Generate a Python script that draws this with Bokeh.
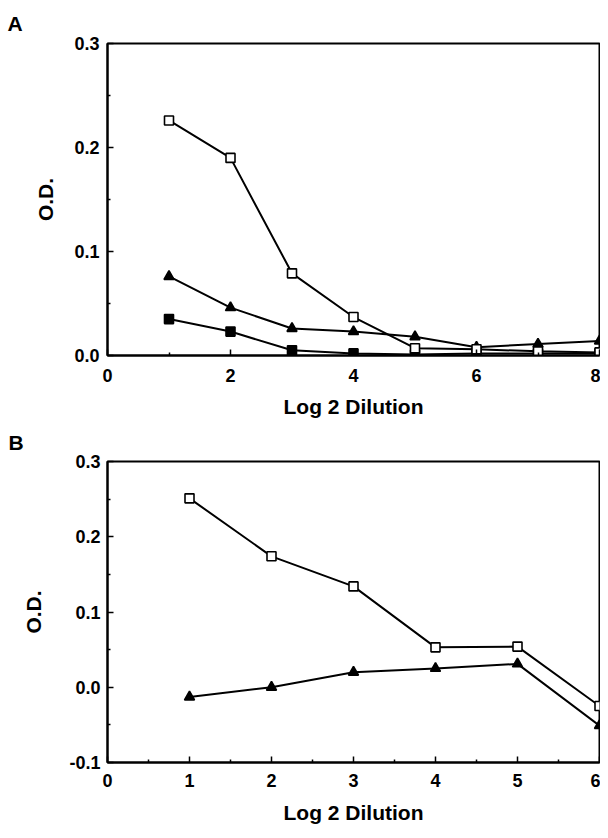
from bokeh.plotting import figure
from bokeh.layouts import column
from bokeh.models import Range1d, FixedTicker, PrintfTickFormatter, Title
from bokeh.embed import file_html
from bokeh.resources import INLINE

# ---- data ----
x_a = [1, 2, 3, 4, 5, 6, 7, 8]
a_open = [0.226, 0.190, 0.079, 0.037, 0.007, 0.006, 0.004, 0.003]
a_tri = [0.076, 0.046, 0.026, 0.023, 0.018, 0.008, 0.011, 0.014]
a_filled = [0.035, 0.023, 0.005, 0.002, 0.001, 0.002, 0.002, 0.002]

x_b = [1, 2, 3, 4, 5, 6]
b_open = [0.251, 0.174, 0.134, 0.053, 0.054, -0.025]
b_tri = [-0.013, 0.000, 0.020, 0.025, 0.031, -0.051]

a_xticks = [0, 2, 4, 6, 8]
a_xminor = [1, 3, 5, 7]
a_yticks = [0.0, 0.1, 0.2, 0.3]
a_yminor = [0.05, 0.15, 0.25]
b_xticks = [0, 1, 2, 3, 4, 5, 6]
b_xminor = [0.5, 1.5, 2.5, 3.5, 4.5, 5.5]
b_yticks = [-0.1, 0.0, 0.1, 0.2, 0.3]
b_yminor = [-0.05, 0.05, 0.15, 0.25]

FONT = "Liberation Sans"


def style(p, letter, t_offset, t_standoff, xticks, xminor, yticks, yminor,
          xt_standoff, yt_standoff, xl_standoff, yl_standoff):
    p.grid.visible = False
    p.outline_line_color = "black"
    p.outline_line_width = 2
    p.background_fill_color = "white"
    p.border_fill_color = "white"
    p.xaxis.ticker = FixedTicker(ticks=xticks, minor_ticks=xminor)
    p.yaxis.ticker = FixedTicker(ticks=yticks, minor_ticks=yminor)
    p.yaxis.formatter = PrintfTickFormatter(format="%.1f")
    for ax in (p.xaxis, p.yaxis):
        ax.axis_line_width = 2
        ax.axis_line_color = "black"
        ax.major_tick_in = 6
        ax.major_tick_out = 0
        ax.minor_tick_in = 3
        ax.minor_tick_out = 0
        ax.major_tick_line_width = 1.5
        ax.minor_tick_line_width = 1.5
        ax.major_label_text_font = FONT
        ax.major_label_text_font_style = "bold"
        ax.major_label_text_font_size = "18px"
        ax.major_label_text_color = "black"
        ax.axis_label_text_font = FONT
        ax.axis_label_text_font_style = "bold"
        ax.axis_label_text_font_size = "21px"
        ax.axis_label_text_color = "black"
    p.xaxis.major_label_standoff = xt_standoff
    p.yaxis.major_label_standoff = yt_standoff
    p.xaxis.axis_label = "Log 2 Dilution"
    p.yaxis.axis_label = "O.D."
    p.xaxis.axis_label_standoff = xl_standoff
    p.yaxis.axis_label_standoff = yl_standoff
    t = Title(text=letter, align="left", offset=t_offset, standoff=t_standoff,
              text_font=FONT, text_font_style="bold", text_font_size="21px",
              text_color="black")
    p.add_layout(t, "above")


def series(p, x, y, marker, fill, size):
    p.line(x, y, line_color="black", line_width=2)
    p.scatter(x, y, marker=marker, size=size, fill_color=fill,
              line_color="black", line_width=1.6)


pa = figure(width=600, height=420, output_backend="svg", toolbar_location=None,
            x_range=Range1d(0, 8), y_range=Range1d(0, 0.3),
            min_border_left=107, min_border_right=1, min_border_top=43,
            min_border_bottom=65)
style(pa, "A", -100, 17, a_xticks, a_xminor, a_yticks, a_yminor, 13, 8, 10, 14)
series(pa, x_a, a_filled, "square", "black", 9)
series(pa, x_a, a_tri, "triangle", "black", 10)
series(pa, x_a, a_open, "square", "white", 9)

pb = figure(width=600, height=410, output_backend="svg", toolbar_location=None,
            x_range=Range1d(0, 6), y_range=Range1d(-0.1, 0.3),
            min_border_left=102, min_border_right=1, min_border_top=41,
            min_border_bottom=68)
style(pb, "B", -99, 15, b_xticks, b_xminor, b_yticks, b_yminor, 11, 7, 11, 21)
series(pb, x_b, b_tri, "triangle", "black", 10)
series(pb, x_b, b_open, "square", "white", 9)

layout = column(pa, pb, spacing=0)
open("out.html", "w").write(file_html(layout, INLINE))
